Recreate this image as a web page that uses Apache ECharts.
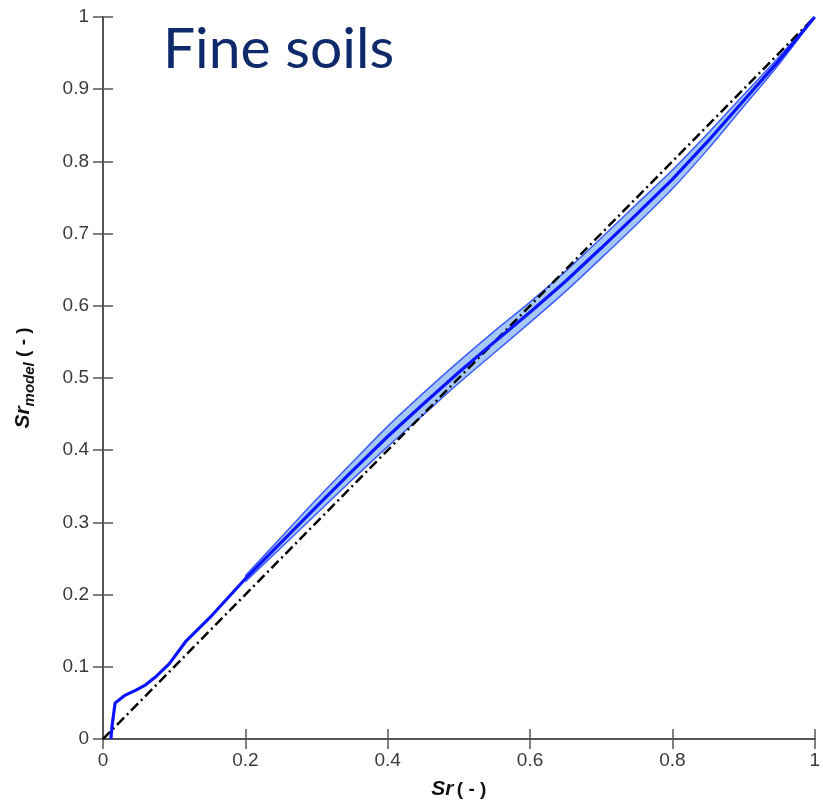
<!DOCTYPE html>
<html>
<head>
<meta charset="utf-8">
<script src="https://cdn.jsdelivr.net/npm/echarts@6/dist/echarts.min.js"></script>
<style>
  html, body { margin: 0; padding: 0; background: #fff; }
  #main { width: 823px; height: 805px; }
</style>
</head>
<body>
<div id="main"></div>
<script>
// mean model curve (Sr, Sr_model)
var meanX = [0.011, 0.013, 0.017, 0.03, 0.047, 0.06, 0.075, 0.093, 0.117, 0.15, 0.2, 0.25, 0.3, 0.35, 0.4, 0.45, 0.5, 0.55, 0.6, 0.65, 0.7, 0.75, 0.8, 0.85, 0.9, 0.95, 1.0];
var meanY = [0, 0.02, 0.05, 0.06, 0.068, 0.075, 0.087, 0.104, 0.136, 0.168, 0.222, 0.272, 0.322, 0.371, 0.419, 0.464, 0.508, 0.55, 0.591, 0.634, 0.68, 0.727, 0.775, 0.828, 0.884, 0.94, 1.0];

// uncertainty band
var bandX = [0.2, 0.25, 0.3, 0.35, 0.4, 0.45, 0.5, 0.55, 0.6, 0.65, 0.7, 0.75, 0.8, 0.85, 0.9, 0.95, 1.0];
var bandLow = [0.218, 0.265, 0.312, 0.359, 0.405, 0.449, 0.493, 0.535, 0.577, 0.620, 0.666, 0.713, 0.762, 0.817, 0.876, 0.935, 1.0];
var bandHigh = [0.226, 0.279, 0.332, 0.383, 0.433, 0.479, 0.523, 0.565, 0.605, 0.648, 0.694, 0.741, 0.788, 0.839, 0.892, 0.945, 1.0];

// 1:1 line
var diagX = [0, 1];
var diagY = [0, 1];

function pairs(xs, ys) {
    return xs.map(function (x, i) { return [x, ys[i]]; });
}

var myChart = echarts.init(document.getElementById('main'));

var axisLine = { show: true, lineStyle: { color: '#555', width: 2 } };
var axisTick = { show: true, inside: true, length: 10, lineStyle: { color: '#555', width: 1.5 } };
var labelStyle = { color: '#3a3a3a', fontSize: 19, fontFamily: 'Liberation Sans, Arial, sans-serif' };

// band polygon: upper edge forward, lower edge back
function renderBand(params, api) {
    var pts = [];
    for (var i = 0; i < bandX.length; i++) pts.push(api.coord([bandX[i], bandHigh[i]]));
    for (var j = bandX.length - 1; j >= 0; j--) pts.push(api.coord([bandX[j], bandLow[j]]));
    return {
        type: 'polygon',
        shape: { points: pts },
        style: { fill: '#a6c8f5', stroke: 'none' }
    };
}

var option = {
    backgroundColor: '#fff',
    animation: false,
    title: {
        text: 'Fine soils',
        left: 158,
        top: 16,
        textStyle: { color: '#0f2a6b', fontSize: 57, fontWeight: 'normal', fontFamily: 'Lato, sans-serif' }
    },
    grid: { left: 103, right: 3, top: 17, bottom: 65, show: false },
    xAxis: [{
        type: 'value', min: 0, max: 1, interval: 0.2,
        axisLine: axisLine, axisTick: axisTick,
        axisLabel: Object.assign({ margin: 12 }, labelStyle),
        splitLine: { show: false },
        name: '{b|Sr} {n|( - )}',
        nameLocation: 'middle', nameGap: 40,
        nameTextStyle: {
            rich: {
                b: { fontSize: 21, fontWeight: 'bold', fontStyle: 'italic', color: '#111', fontFamily: 'Liberation Sans, Arial' },
                n: { fontSize: 19, fontWeight: 'bold', color: '#111', fontFamily: 'Liberation Sans, Arial' }
            }
        }
    }, {
        type: 'value', min: 0, max: 1, interval: 0.2, position: 'top',
        axisLine: axisLine, axisTick: axisTick, axisLabel: { show: false }, splitLine: { show: false }
    }],
    yAxis: [{
        type: 'value', min: 0, max: 1, interval: 0.1,
        axisLine: axisLine, axisTick: axisTick,
        axisLabel: Object.assign({ margin: 14 }, labelStyle),
        splitLine: { show: false },
        name: '{b|Sr}{s|model}{n| ( - )}',
        nameLocation: 'middle', nameGap: 66,
        nameTextStyle: {
            rich: {
                b: { fontSize: 21, fontWeight: 'bold', fontStyle: 'italic', color: '#111', fontFamily: 'Liberation Sans, Arial' },
                s: { fontSize: 15, fontWeight: 'bold', fontStyle: 'italic', color: '#111', fontFamily: 'Liberation Sans, Arial', padding: [12, 0, 0, 0] },
                n: { fontSize: 19, fontWeight: 'bold', color: '#111', fontFamily: 'Liberation Sans, Arial' }
            }
        }
    }, {
        type: 'value', min: 0, max: 1, interval: 0.1, position: 'right',
        axisLine: axisLine, axisTick: axisTick, axisLabel: { show: false }, splitLine: { show: false }
    }],
    series: [
        {
            name: 'band', type: 'custom', renderItem: renderBand,
            data: [[bandX[0], bandLow[0]]],
            clip: true, silent: true, z: 1
        },
        {
            name: 'band-low', type: 'line', symbol: 'none', smooth: 0.3,
            data: pairs(bandX, bandLow),
            lineStyle: { color: '#3d5cff', width: 1.5 },
            z: 2
        },
        {
            name: 'band-high', type: 'line', symbol: 'none', smooth: 0.3,
            data: pairs(bandX, bandHigh),
            lineStyle: { color: '#3d5cff', width: 1.5 },
            z: 2
        },
        {
            name: '1:1', type: 'line', symbol: 'none',
            data: pairs(diagX, diagY),
            lineStyle: { color: '#000', width: 2.5, type: [10, 4, 2, 4] },
            z: 3
        },
        {
            name: 'model', type: 'line', symbol: 'none',
            data: pairs(meanX, meanY),
            lineStyle: { color: '#0a14ff', width: 3.2 },
            z: 4
        }
    ]
};

myChart.setOption(option);
</script>
</body>
</html>
